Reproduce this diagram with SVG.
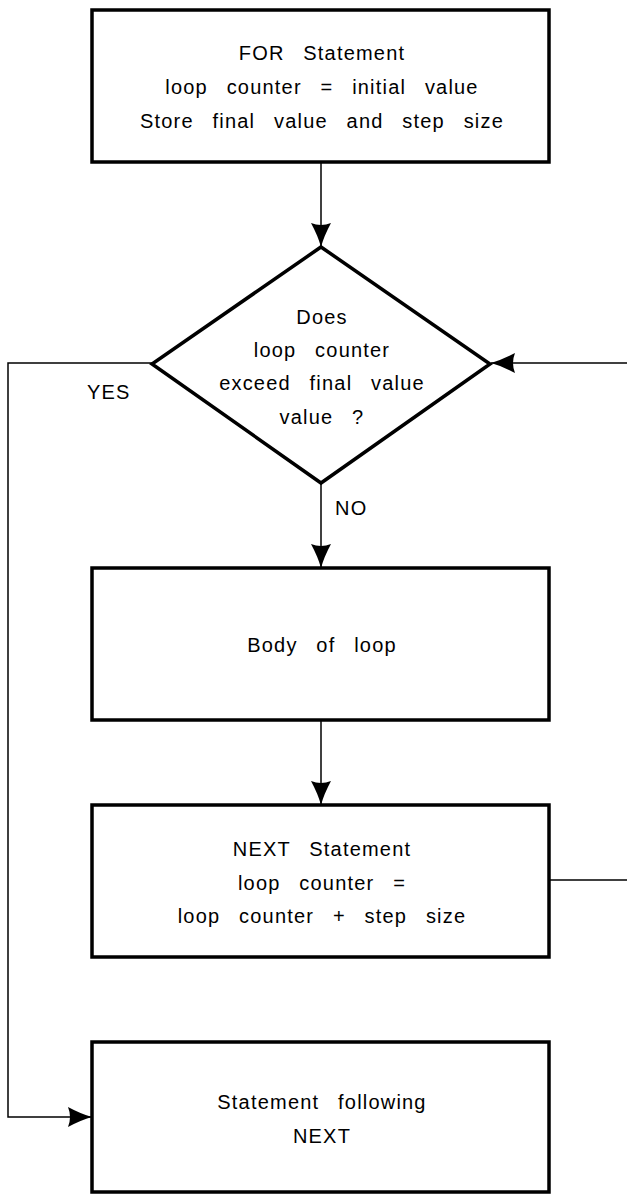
<svg xmlns="http://www.w3.org/2000/svg" width="627" height="1194" viewBox="0 0 627 1194">
  <style>
    .box { fill: #ffffff; stroke: #000000; stroke-width: 3.5; stroke-linejoin: miter; }
    .link { fill: none; stroke: #000000; stroke-width: 1.5; }
    .lbl { font-family: "Liberation Sans", Arial, sans-serif; font-size: 20px; fill: #000000; letter-spacing: 1.2px; word-spacing: 12px; }
    .mid { text-anchor: middle; }
  </style>
  <defs>
    <marker id="head" markerUnits="userSpaceOnUse" markerWidth="30" markerHeight="24" viewBox="-26 -12 30 24" refX="0" refY="0" orient="auto">
      <path d="M0,0 Q-11,-3 -24,-10 Q-20,0 -24,10 Q-11,3 0,0 Z" fill="#000000"/>
    </marker>
  </defs>

  <!-- connectors -->
  <g id="connectors">
    <path class="link" d="M321,162 V247" marker-end="url(#head)"/>
    <path class="link" d="M321,483 V568" marker-end="url(#head)"/>
    <path class="link" d="M321,720 V805" marker-end="url(#head)"/>
    <path class="link" d="M152,363 H8 V1117 H92" marker-end="url(#head)"/>
    <path class="link" d="M627,363 H491" marker-end="url(#head)"/>
    <path class="link" d="M549,880 H627"/>
    <text class="lbl" x="87" y="399">YES</text>
    <text class="lbl" x="335" y="515">NO</text>
  </g>

  <!-- FOR statement -->
  <g id="for-statement">
    <rect class="box" x="92" y="10" width="457" height="152"/>
    <text class="lbl mid" x="322" y="60">FOR Statement</text>
    <text class="lbl mid" x="322" y="94">loop counter = initial value</text>
    <text class="lbl mid" x="322" y="128">Store final value and step size</text>
  </g>

  <!-- loop test -->
  <g id="loop-test">
    <polygon class="box" points="321,247 490,364 321,483 152,364"/>
    <text class="lbl mid" x="322" y="324">Does</text>
    <text class="lbl mid" x="322" y="357">loop counter</text>
    <text class="lbl mid" x="322" y="390">exceed final value</text>
    <text class="lbl mid" x="322" y="424">value ?</text>
  </g>

  <!-- loop body -->
  <g id="loop-body">
    <rect class="box" x="92" y="568" width="457" height="152"/>
    <text class="lbl mid" x="322" y="652">Body of loop</text>
  </g>

  <!-- NEXT statement -->
  <g id="next-statement">
    <rect class="box" x="92" y="805" width="457" height="152"/>
    <text class="lbl mid" x="322" y="856">NEXT Statement</text>
    <text class="lbl mid" x="322" y="890">loop counter =</text>
    <text class="lbl mid" x="322" y="923">loop counter + step size</text>
  </g>

  <!-- statement after the loop -->
  <g id="after-loop">
    <rect class="box" x="92" y="1042" width="457" height="150"/>
    <text class="lbl mid" x="322" y="1109">Statement following</text>
    <text class="lbl mid" x="322" y="1143">NEXT</text>
  </g>
</svg>
